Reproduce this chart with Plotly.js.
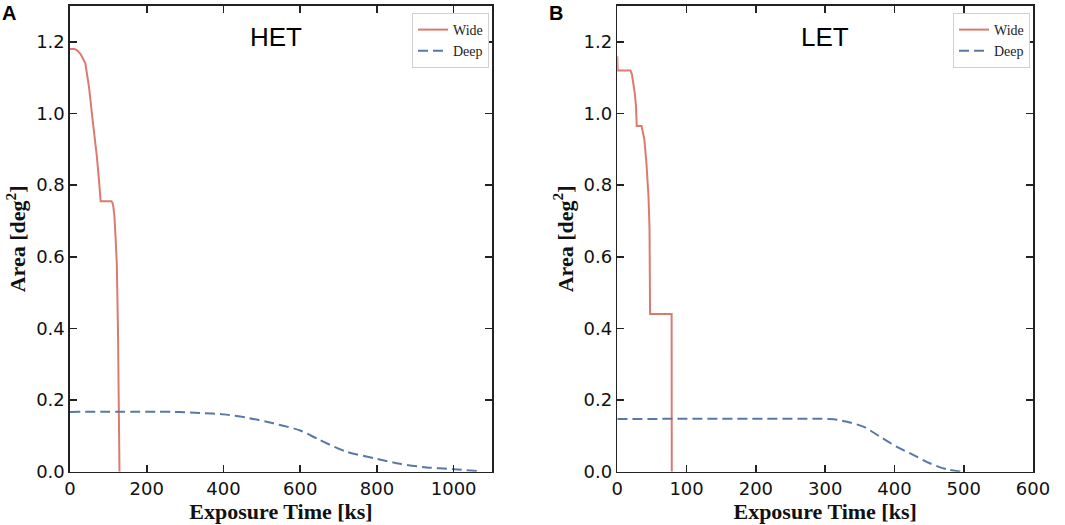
<!DOCTYPE html>
<html>
<head>
<meta charset="utf-8">
<script src="https://cdn.plot.ly/plotly-3.0.1.min.js"></script>
<style>html,body{margin:0;padding:0;background:#fff;}#chart{width:1065px;height:525px;}</style>
</head>
<body>
<div id="chart"></div>
<script>
// ---- Data ----
const hetWideX = [0, 12, 20, 28, 40, 50, 57, 63, 70, 75, 79, 80, 108, 111, 113, 116, 119, 122, 125, 127, 129];
const hetWideY = [1.18, 1.18, 1.175, 1.165, 1.14, 1.07, 1.0, 0.95, 0.88, 0.82, 0.76, 0.755, 0.755, 0.75, 0.74, 0.71, 0.65, 0.58, 0.40, 0.20, 0];
const hetDeepX = [0, 270, 340, 400, 460, 530, 600, 650, 720, 800, 860, 930, 1000, 1061];
const hetDeepY = [0.167, 0.167, 0.164, 0.160, 0.151, 0.135, 0.115, 0.089, 0.056, 0.036, 0.022, 0.012, 0.007, 0.002];

const letWideX = [0, 0.5, 2, 19, 21, 23, 25, 27, 28, 35, 37, 39, 42, 45, 46.5, 47, 47.3, 78.4, 78.6];
const letWideY = [1.16, 1.12, 1.12, 1.12, 1.11, 1.086, 1.06, 1.021, 0.965, 0.965, 0.95, 0.928, 0.863, 0.769, 0.68, 0.58, 0.44, 0.44, 0];
const letDeepX = [0, 306, 318, 330, 355, 379, 403, 427, 451, 475, 499];
const letDeepY = [0.147, 0.147, 0.145, 0.140, 0.126, 0.098, 0.070, 0.047, 0.0235, 0.007, 0];

const seriesNames = ['Wide', 'Deep'];
const panelLabels = ['A', 'B'];
const panelTitles = ['HET', 'LET'];
const xTitle = 'Exposure Time [ks]';
const yTitle = 'Area [deg<sup>2</sup>]';

// ---- Styles ----
const wideColor = '#dc7a70';
const deepColor = '#5a78a6';
const W = 1065, H = 525;
const px = v => v / W;
const py = v => (H - v) / H;

const traces = [
  {x: hetWideX, y: hetWideY, name: seriesNames[0], mode: 'lines', xaxis: 'x', yaxis: 'y', legend: 'legend',
   line: {color: wideColor, width: 2}},
  {x: hetDeepX, y: hetDeepY, name: seriesNames[1], mode: 'lines', xaxis: 'x', yaxis: 'y', legend: 'legend',
   line: {color: deepColor, width: 2, dash: '10px,5px', shape: 'spline', smoothing: 0.8}},
  {x: letWideX, y: letWideY, name: seriesNames[0], mode: 'lines', xaxis: 'x2', yaxis: 'y2', legend: 'legend2',
   line: {color: wideColor, width: 2}},
  {x: letDeepX, y: letDeepY, name: seriesNames[1], mode: 'lines', xaxis: 'x2', yaxis: 'y2', legend: 'legend2',
   line: {color: deepColor, width: 2, dash: '10px,5px', shape: 'spline', smoothing: 0.8}}
];

const tickFont = {family: 'DejaVu Sans', size: 18, color: '#111'};
const titleFont = {family: 'Liberation Serif', size: 22, color: '#111'};

function xAxis(domain, range, dtick, anchor) {
  return {
    domain: domain, range: range, dtick: dtick, tick0: 0, anchor: anchor,
    showline: true, linecolor: '#222', linewidth: 1.6, mirror: 'ticks',
    ticks: 'inside', ticklen: 7, tickwidth: 1.6, tickcolor: '#222',
    showgrid: false, zeroline: false, tickfont: tickFont,
    title: {text: '<b>' + xTitle + '</b>', font: titleFont, standoff: 5},
    automargin: false, fixedrange: true
  };
}
function yAxis(anchor) {
  return {
    domain: [py(471.7), py(6)], range: [0, 1.3], dtick: 0.2, tick0: 0, tickformat: '.1f', anchor: anchor,
    showline: true, linecolor: '#222', linewidth: 1.6, mirror: 'ticks',
    ticks: 'inside', ticklen: 7, tickwidth: 1.6, tickcolor: '#222',
    showgrid: false, zeroline: false, tickfont: tickFont,
    title: {text: '<b>' + yTitle + '</b>', font: titleFont, standoff: 4},
    automargin: false, fixedrange: true
  };
}

const legendStyle = (xr) => ({
  x: px(xr), xanchor: 'right', y: py(13), yanchor: 'top',
  bgcolor: '#ffffff', bordercolor: '#d0d0d0', borderwidth: 1,
  font: {family: 'Liberation Serif', size: 14, color: '#222'},
  tracegroupgap: 0
});

const layout = {
  width: W, height: H,
  margin: {l: 0, r: 0, t: 0, b: 0},
  paper_bgcolor: '#fff', plot_bgcolor: '#fff',
  showlegend: true,
  xaxis: xAxis([px(70), px(492)], [0, 1100], 200, 'y'),
  yaxis: yAxis('x'),
  xaxis2: xAxis([px(617.3), px(1033)], [0, 600], 100, 'y2'),
  yaxis2: yAxis('x2'),
  legend: legendStyle(489),
  legend2: legendStyle(1030),
  annotations: [
    {text: '<b>' + panelLabels[0] + '</b>', xref: 'paper', yref: 'paper', x: px(9), y: py(12.5),
     xanchor: 'center', yanchor: 'middle', showarrow: false, font: {family: 'Liberation Sans', size: 20, color: '#000'}},
    {text: '<b>' + panelLabels[1] + '</b>', xref: 'paper', yref: 'paper', x: px(556), y: py(12.5),
     xanchor: 'center', yanchor: 'middle', showarrow: false, font: {family: 'Liberation Sans', size: 20, color: '#000'}},
    {text: panelTitles[0], xref: 'paper', yref: 'paper', x: px(276), y: py(37),
     xanchor: 'center', yanchor: 'middle', showarrow: false, font: {family: 'Liberation Sans', size: 26, color: '#000'}},
    {text: panelTitles[1], xref: 'paper', yref: 'paper', x: px(825), y: py(37),
     xanchor: 'center', yanchor: 'middle', showarrow: false, font: {family: 'Liberation Sans', size: 26, color: '#000'}}
  ]
};

Plotly.newPlot('chart', traces, layout, {displayModeBar: false, staticPlot: true});
</script>
</body>
</html>
